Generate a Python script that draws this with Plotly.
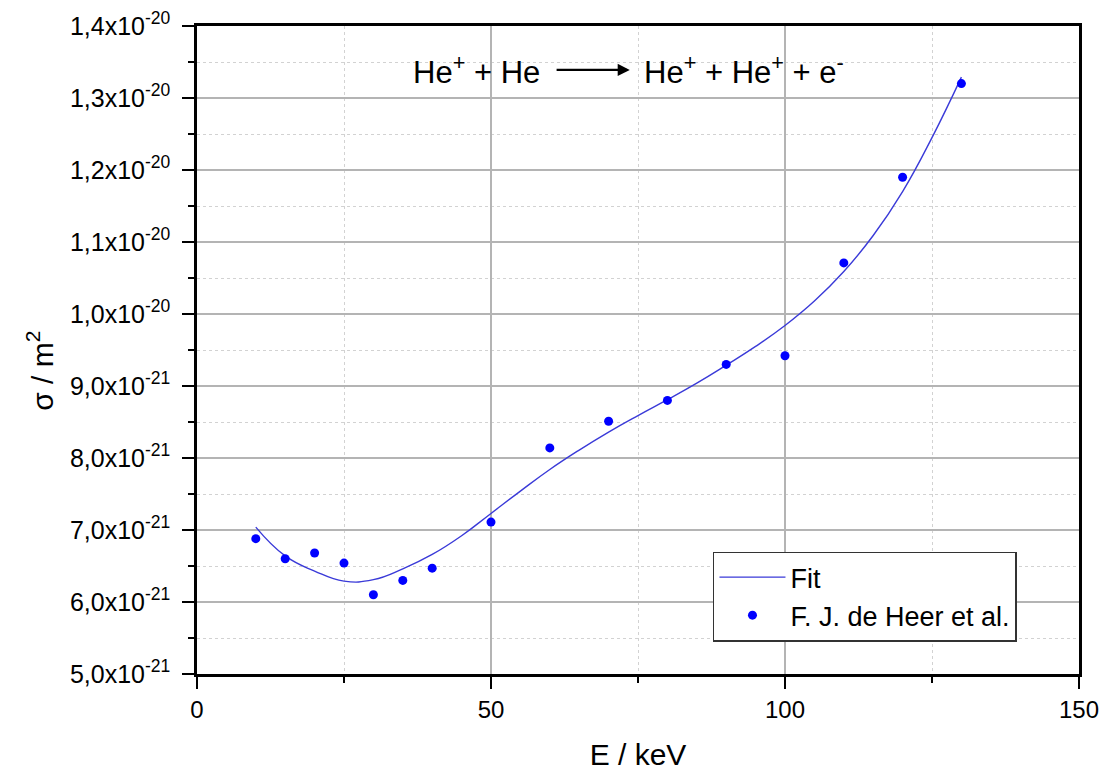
import plotly.graph_objects as go

# Measured cross sections (units of 1e-21 m^2)
energy_kev = [10, 15, 20, 25, 30, 35, 40, 50, 60, 70, 80, 90, 100, 110, 120, 130]
sigma_e21 = [6.88, 6.60, 6.68, 6.54, 6.10, 6.30, 6.47, 7.11, 8.14, 8.51, 8.80, 9.30,
             9.42, 10.71, 11.90, 13.20]

# Fit curve sampled along the energy range (units of 1e-21 m^2)
fit_energy = [10, 15, 20, 25, 30, 35, 40, 45, 50, 55, 60, 65, 70, 75, 80, 85, 90, 95,
              100, 105, 110, 115, 120, 125, 130]
fit_sigma_e21 = [7.04, 6.64, 6.43, 6.29, 6.31, 6.46, 6.66, 6.92, 7.23, 7.54, 7.84, 8.11,
                 8.36, 8.59, 8.81, 9.04, 9.29, 9.55, 9.84, 10.18, 10.59, 11.09, 11.70,
                 12.45, 13.29]

scale = 1e-21
y_tick_vals = [5, 6, 7, 8, 9, 10, 11, 12, 13, 14]
y_tick_text = ["5,0x10<sup>-21</sup>", "6,0x10<sup>-21</sup>", "7,0x10<sup>-21</sup>",
               "8,0x10<sup>-21</sup>", "9,0x10<sup>-21</sup>", "1,0x10<sup>-20</sup>",
               "1,1x10<sup>-20</sup>", "1,2x10<sup>-20</sup>", "1,3x10<sup>-20</sup>",
               "1,4x10<sup>-20</sup>"]
y_minor_vals = [5.5, 6.5, 7.5, 8.5, 9.5, 10.5, 11.5, 12.5, 13.5]
x_tick_vals = [0, 50, 100, 150]

FONT = "Liberation Sans, Arial, sans-serif"

fig = go.Figure()
fig.add_trace(go.Scatter(
    x=fit_energy, y=[v * scale for v in fit_sigma_e21],
    mode="lines", name="Fit",
    line=dict(color="#3a3ad8", width=1.4, shape="spline", smoothing=1.3),
))
fig.add_trace(go.Scatter(
    x=energy_kev, y=[v * scale for v in sigma_e21],
    mode="markers", name="F. J. de Heer et al.",
    marker=dict(color="#0000ff", size=9),
))

# Reaction equation written across the top of the plot
ry = 13.39 * scale
fig.add_annotation(x=58.6, y=ry, xref="x", yref="y", xanchor="right", yanchor="middle",
                   text="He<sup>+</sup> + He", showarrow=False,
                   font=dict(family=FONT, size=31, color="black"))
fig.add_annotation(x=73.6, y=ry, ax=60.9, ay=ry, xref="x", yref="y", axref="x", ayref="y",
                   text="", showarrow=True, arrowhead=2, arrowsize=1.1, arrowwidth=2.2,
                   arrowcolor="black")
fig.add_annotation(x=75.6, y=ry, xref="x", yref="y", xanchor="left", yanchor="middle",
                   text="He<sup>+</sup> + He<sup>+</sup> + e<sup>-</sup>", showarrow=False,
                   font=dict(family=FONT, size=31, color="black"))

# Vertical axis title
fig.add_annotation(x=-0.178, y=0.468, xref="paper", yref="paper",
                   xanchor="center", yanchor="middle", textangle=-90,
                   text="σ / m<sup>2</sup>", showarrow=False,
                   font=dict(family=FONT, size=30, color="black"))

axis_common = dict(
    showline=True, linecolor="black", linewidth=2.5, mirror=True,
    ticks="outside", ticklen=12, tickwidth=2, tickcolor="black",
    showgrid=True, gridcolor="#b4b4b4", gridwidth=1.5,
    zeroline=False,
)

fig.update_xaxes(
    range=[0, 150], tickvals=x_tick_vals,
    tickfont=dict(family=FONT, size=24, color="black"),
    title=dict(text="E / keV", font=dict(family=FONT, size=30, color="black"), standoff=26),
    minor=dict(dtick=25, ticks="outside", ticklen=6, tickwidth=2, tickcolor="black",
               showgrid=True, gridcolor="#d2d2d2", gridwidth=1, griddash="dot"),
    **axis_common,
)
fig.update_yaxes(
    range=[5 * scale, 14 * scale],
    tickvals=[v * scale for v in y_tick_vals], ticktext=y_tick_text,
    tickfont=dict(family=FONT, size=25, color="black"),
    ticklabelstandoff=7,
    minor=dict(tickvals=[v * scale for v in y_minor_vals],
               ticks="outside", ticklen=6, tickwidth=2, tickcolor="black",
               showgrid=True, gridcolor="#d2d2d2", gridwidth=1, griddash="dot"),
    **axis_common,
)

fig.update_layout(
    width=1104, height=771,
    margin=dict(l=197, r=25, t=26, b=97, autoexpand=False),
    paper_bgcolor="white", plot_bgcolor="white",
    showlegend=True,
    legend=dict(x=0.585, y=0.189, xanchor="left", yanchor="top",
                bgcolor="white", bordercolor="#333333", borderwidth=1.5,
                font=dict(family=FONT, size=27, color="black"),
                tracegroupgap=0, itemwidth=66),
    font=dict(family=FONT, color="black"),
)

fig.write_html("out.html")
